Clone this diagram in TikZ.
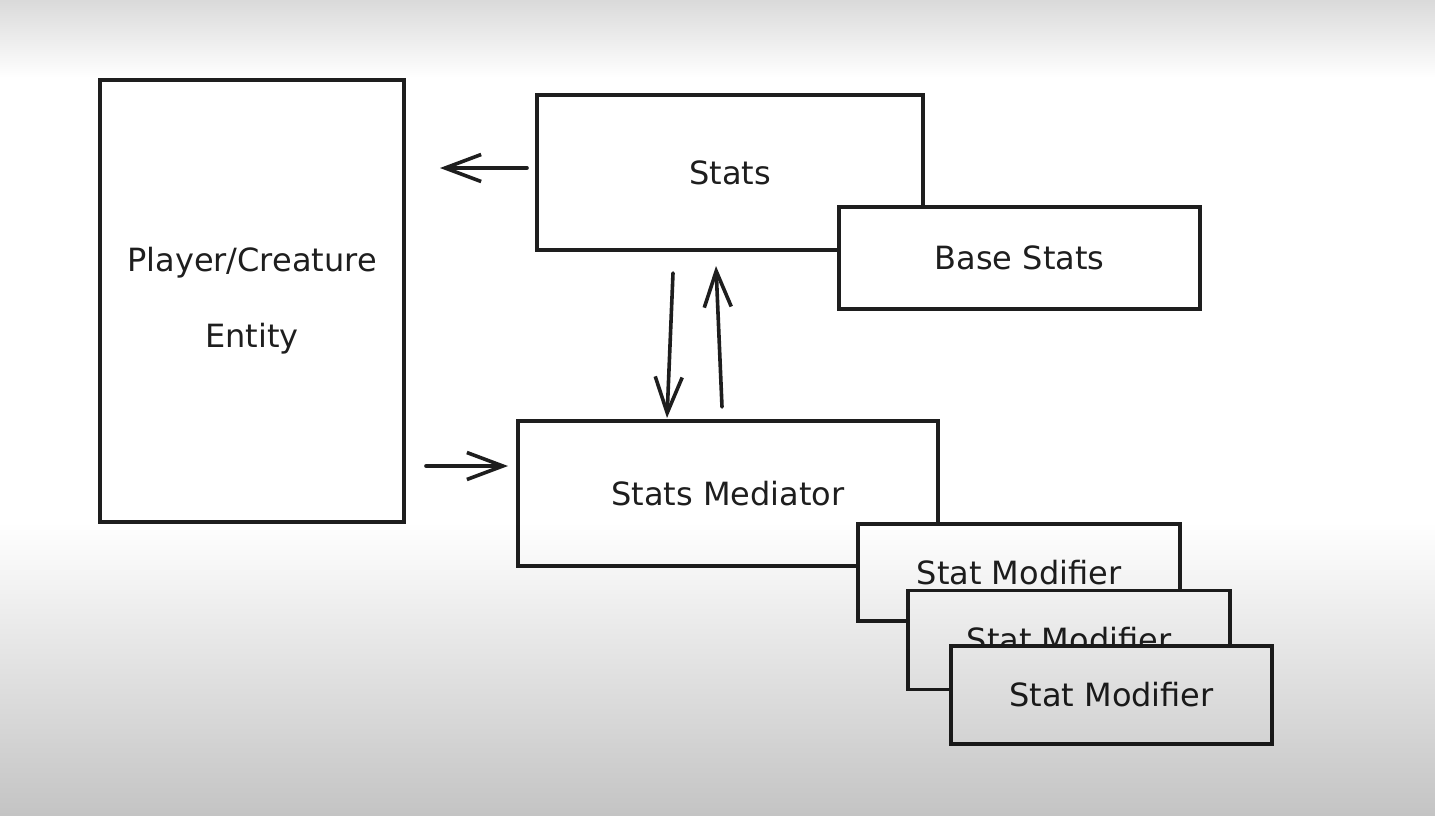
\documentclass[tikz,border=0pt]{standalone}
\usepackage{fontspec}
\setmainfont{DejaVu Sans}
\usetikzlibrary{arrows.meta,calc}
\definecolor{ink}{HTML}{1E1E1E}
\definecolor{topgray}{HTML}{DADADA}
\definecolor{botgray}{HTML}{C4C4C4}
\begin{document}
\begin{tikzpicture}[x=0.5pt,y=-0.5pt,
  box/.style={draw=ink, line width=1.8pt, fill=white, inner sep=0pt, outer sep=0pt,
    text=ink, font=\fontsize{16}{19}\selectfont},
  arr/.style={draw=ink, line width=1.8pt, line cap=round,
    -{Straight Barb[length=18pt,width=13.5pt]}}]
\useasboundingbox (0,0) rectangle (1435,815);
% background
\fill[white] (0,0) rectangle (1435,815);
\shade[top color=topgray, bottom color=white] (0,0) rectangle (1435,78);

% boxes
\node[box, minimum width=152pt, minimum height=221pt, align=center,
  font=\fontsize{16}{38}\selectfont] (player) at (252,301) {Player/Creature\\Entity};
\node[box, minimum width=193pt, minimum height=77.5pt] (stats) at (730,172.5) {Stats};
\node[box, minimum width=180.5pt, minimum height=51pt] (base) at (1019.5,258) {Base Stats};
\node[box, minimum width=210pt, minimum height=72.5pt] (med) at (728,493.5) {Stats Mediator};
\node[box, minimum width=161pt, minimum height=48.5pt] (sm1) at (1019,572.5) {Stat Modifier};
\node[box, minimum width=161pt, minimum height=49.5pt] (sm2) at (1069,640) {Stat Modifier};
\node[box, minimum width=160.5pt, minimum height=49pt] (sm3) at (1111.5,695) {Stat Modifier};

% connectors
\coordinate (a1) at ($(stats.west)+(-10,-4.5)$);
\draw[arr] (a1) -- ($(player.east |- a1)+(36,0)$);
\coordinate (a2) at ($(med.west)+(-10,-27.5)$);
\draw[arr] ($(player.east |- a2)+(22,0)$) -- (a2);
\draw[arr] ($(stats.south)+(-57,23)$) -- ($(med.north)+(-61,-3)$);
\draw[arr] ($(med.north)+(-6,-14)$) -- ($(stats.south)+(-14,16)$);

% bottom shading overlay
\begin{scope}[blend mode=multiply]
\shade[top color=white, bottom color=botgray] (0,522) rectangle (1435,815);
\end{scope}
\end{tikzpicture}
\end{document}
